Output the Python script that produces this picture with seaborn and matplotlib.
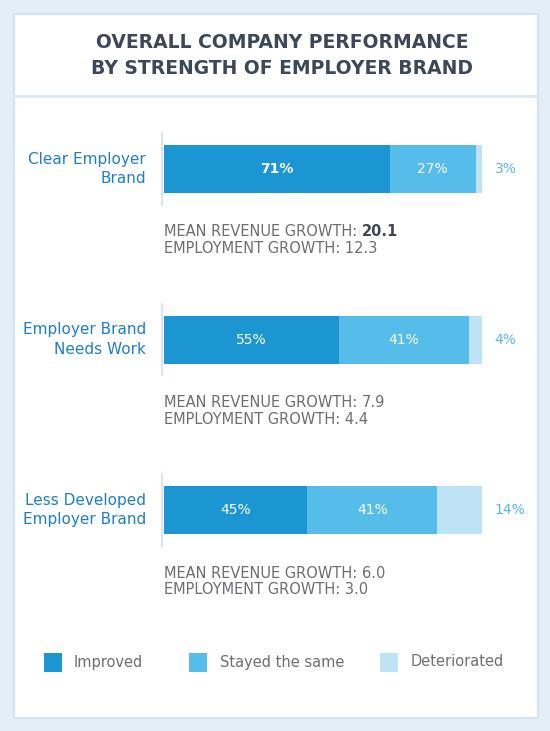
import matplotlib
matplotlib.use("Agg")
import matplotlib.pyplot as plt
import seaborn as sns
import pandas as pd
from matplotlib.patches import Rectangle

categories = ["Clear Employer\nBrand", "Employer Brand\nNeeds Work", "Less Developed\nEmployer Brand"]
improved = [71, 55, 45]
stayed = [27, 41, 41]
deteriorated = [3, 4, 14]
revenue = ["20.1", "7.9", "6.0"]
employment = ["12.3", "4.4", "3.0"]
series = ["Improved", "Stayed the same", "Deteriorated"]
colors = ["#1b96d3", "#56bdea", "#bfe3f6"]

W, H = 550, 731
fig = plt.figure(figsize=(5.5, 7.31), dpi=100)
fig.patch.set_facecolor("#e3eef8")
def fx(x): return x / W
def fy(y): return 1 - y / H
fig.patches.append(Rectangle((fx(14), fy(718)), fx(524), (704) / H, transform=fig.transFigure,
                             facecolor="white", edgecolor="#d3e3f1", lw=1.5, zorder=0))
fig.add_artist(plt.Line2D([fx(14), fx(538)], [fy(96), fy(96)], color="#dbe8f4", lw=2))
fig.text(fx(282), fy(42), "OVERALL COMPANY PERFORMANCE", ha="center", va="center",
         fontsize=13.5, fontweight="bold", color="#3c4858")
fig.text(fx(282), fy(68), "BY STRENGTH OF EMPLOYER BRAND", ha="center", va="center",
         fontsize=13.5, fontweight="bold", color="#3c4858")

df = pd.DataFrame({"cat": categories, "Improved": improved, "Stayed": stayed, "Det": deteriorated})
df["c2"] = df["Improved"] + df["Stayed"]
df["c3"] = df["c2"] + df["Det"]

top, bot = 83.75, 595.25
ax = fig.add_axes([fx(164), fy(bot), fx(482 - 164), (bot - top) / H])
ax.set_zorder(3)
ax.patch.set_alpha(0)
bw = 48 / 170.5
sns.barplot(data=df, y="cat", x="c3", color=colors[2], width=bw, ax=ax, orient="h", saturation=1)
sns.barplot(data=df, y="cat", x="c2", color=colors[1], width=bw, ax=ax, orient="h", saturation=1)
sns.barplot(data=df, y="cat", x="Improved", color=colors[0], width=bw, ax=ax, orient="h", saturation=1)
ax.set_xlim(0, 100)
ax.set_ylim(2.5, -0.5)
ax.axis("off")

for i in range(3):
    ax.text(improved[i] / 2, i, f"{improved[i]}%", ha="center", va="center", color="white",
            fontsize=10, fontweight="bold" if i == 0 else "normal")
    ax.text(improved[i] + stayed[i] / 2, i, f"{stayed[i]}%", ha="center", va="center",
            color="white", fontsize=10)
    ax.text(104, i, f"{deteriorated[i]}%", ha="left", va="center", color="#5ab8e6", fontsize=10)
    ax.plot([-0.6, -0.6], [i - 0.21, i + 0.21], color="#d9e6f1", lw=1.5, clip_on=False)
    yc = 169 + i * 170.5
    fig.text(fx(146), fy(yc), categories[i], ha="right", va="center", fontsize=11,
             color="#1f7fc4", linespacing=1.35)
    t = fig.text(fx(164), fy(yc + 63), "MEAN REVENUE GROWTH: ", ha="left", va="center",
                 fontsize=10.5, color="#6d6e71")
    fig.canvas.draw()
    bb = t.get_window_extent()
    fig.text(bb.x1 / W, fy(yc + 63), revenue[i], ha="left", va="center", fontsize=10.5,
             color="#3c4858" if i == 0 else "#6d6e71", fontweight="bold" if i == 0 else "normal")
    fig.text(fx(164), fy(yc + 80), f"EMPLOYMENT GROWTH: {employment[i]}", ha="left",
             va="center", fontsize=10.5, color="#6d6e71")

for sx, tx, lab, c in zip([44, 189, 380], [74, 220, 411], series, colors):
    fig.patches.append(Rectangle((fx(sx), fy(672)), fx(18), 19 / H, transform=fig.transFigure,
                                 facecolor=c, edgecolor="none"))
    fig.text(fx(tx), fy(662), lab, ha="left", va="center", fontsize=10.5, color="#6d6e71")

fig.savefig("out.png", dpi=100, facecolor=fig.get_facecolor())
